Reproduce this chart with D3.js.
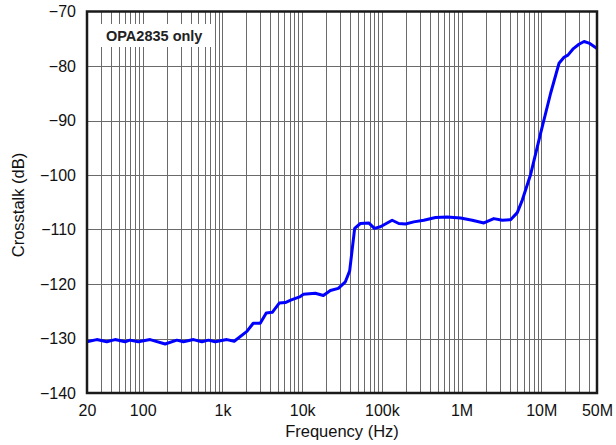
<!DOCTYPE html>
<html><head><meta charset="utf-8">
<script src="https://cdn.jsdelivr.net/npm/d3@7"></script>
<style>body{margin:0;background:#fff}svg{display:block}</style>
</head><body>
<svg id="c" width="616" height="445"></svg>
<script>
const freqs = [20,26.5,35.4,45,60,69,88,124,191,268,324,433,552,668,811,1138,1406,2028,2434,2980,3548,4220,5165,6140,7310,9480,10340,14620,18440,22600,28440,34840,39460,45600,53800,68400,80700,95900,134600,163000,197700,251000,336000,471000,661000,971000,1.36e6,1.906e6,2.54e6,3.24e6,4.12e6,5.0e6,5.78e6,7.35e6,9.82e6,13.1e6,16.7e6,19.3e6,21.6e6,25.3e6,29.7e6,34.4e6,39.7e6,50e6];
const crosstalk = [-130.6,-130.2,-130.6,-130.2,-130.6,-130.3,-130.6,-130.2,-131.0,-130.3,-130.6,-130.2,-130.6,-130.3,-130.6,-130.2,-130.5,-128.7,-127.2,-127.2,-125.3,-125.2,-123.5,-123.4,-122.9,-122.3,-121.9,-121.7,-122.1,-121.2,-120.8,-119.6,-117.6,-109.8,-108.9,-108.8,-109.8,-109.5,-108.3,-108.9,-109.0,-108.6,-108.3,-107.8,-107.7,-107.9,-108.3,-108.8,-108.0,-108.3,-108.2,-106.9,-104.6,-99.9,-92.3,-85.0,-79.5,-78.4,-78.0,-76.8,-76.0,-75.5,-75.8,-76.8];
const xTickVals = [20,100,1e3,1e4,1e5,1e6,1e7,5e7];
const xTickLabels = ["20","100","1k","10k","100k","1M","10M","50M"];
const yTickVals = [-140,-130,-120,-110,-100,-90,-80,-70];
const xTitle = "Frequency (Hz)";
const yTitle = "Crosstalk (dB)";
const note = "OPA2835 only";

const L=87,R=597,T=11.5,B=393;
const svg=d3.select("#c");
const x=d3.scaleLog().domain([20,5e7]).range([L,R]);
const y=d3.scaleLinear().domain([-140,-70]).range([B,T]);
const font="'Liberation Sans', Arial, sans-serif";

// vertical grid lines (1..9 per decade)
const vgrid=[];
for(let e=1;e<=7;e++){for(let m=1;m<=9;m++){const v=m*Math.pow(10,e);if(v>20&&v<5e7)vgrid.push(v);}}
const g=svg.append("g");
g.selectAll("line.v").data(vgrid).join("line")
 .attr("x1",d=>Math.round(x(d))+0.5).attr("x2",d=>Math.round(x(d))+0.5)
 .attr("y1",T).attr("y2",B).attr("stroke","#6a6a6a").attr("stroke-width",1);
g.selectAll("line.h").data(yTickVals.slice(1,-1)).join("line")
 .attr("x1",L).attr("x2",R)
 .attr("y1",d=>Math.round(y(d))+0.5).attr("y2",d=>Math.round(y(d))+0.5)
 .attr("stroke","#6a6a6a").attr("stroke-width",1);

// note box
svg.append("rect").attr("x",100).attr("y",24).attr("width",112).attr("height",23).attr("fill","#fff");
svg.append("text").attr("x",106).attr("y",40.5).attr("font-family",font).attr("font-weight","bold")
 .attr("font-size",14.5).attr("fill","#222").text(note);

// line
svg.append("path").datum(freqs.map((f,i)=>[f,crosstalk[i]]))
 .attr("fill","none").attr("stroke","#0000ff").attr("stroke-width",3).attr("stroke-linejoin","round")
 .attr("d",d3.line().x(d=>x(d[0])).y(d=>y(d[1])));

// border
svg.append("rect").attr("x",L).attr("y",T).attr("width",R-L).attr("height",B-T)
 .attr("fill","none").attr("stroke","#1a1a1a").attr("stroke-width",2.5);

// axes labels via d3 axes
const xAxis=d3.axisBottom(x).tickValues(xTickVals).tickFormat((d,i)=>xTickLabels[i]).tickSize(0).tickPadding(12);
const xa=svg.append("g").attr("transform",`translate(0,${B})`).call(xAxis);
xa.select(".domain").remove();
xa.selectAll("text").attr("font-family",font).attr("font-size",16).attr("fill","#111");

const yAxis=d3.axisLeft(y).tickValues(yTickVals).tickFormat(d=>d3.format("")(d).replace("-","\u2212")).tickSize(0).tickPadding(11);
const ya=svg.append("g").attr("transform",`translate(${L},0)`).call(yAxis);
ya.select(".domain").remove();
ya.selectAll("text").attr("font-family",font).attr("font-size",16).attr("fill","#111");

svg.append("text").attr("x",(L+R)/2).attr("y",437).attr("text-anchor","middle")
 .attr("font-family",font).attr("font-size",16.5).attr("fill","#111").text(xTitle);
svg.append("text").attr("transform","translate(24,205) rotate(-90)").attr("text-anchor","middle")
 .attr("font-family",font).attr("font-size",16.5).attr("fill","#111").text(yTitle);
</script>
</body></html>
